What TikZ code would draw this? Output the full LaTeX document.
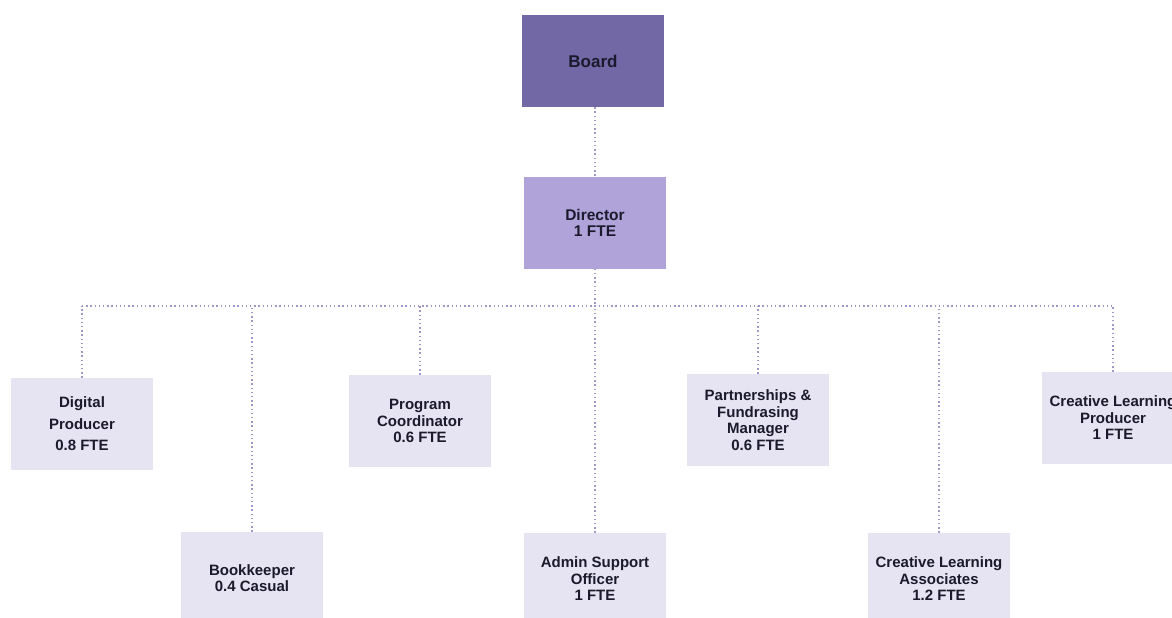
\documentclass[tikz,border=0pt]{standalone}
\usepackage{fontspec}
\setmainfont{Liberation Sans}
\definecolor{boardc}{HTML}{7268A6}
\definecolor{dirc}{HTML}{B0A3D9}
\definecolor{staffc}{HTML}{E6E4F2}
\definecolor{linec}{HTML}{9D98C6}
\definecolor{txtc}{HTML}{1B1A2C}
\tikzset{
  box/.style={minimum width=142pt, minimum height=92pt, inner sep=0pt, align=center,
    text=txtc, font=\bfseries\fontsize{15}{16.5}\selectfont},
  boardbox/.style={box, fill=boardc, font=\bfseries\fontsize{17}{19}\selectfont},
  dirbox/.style={box, fill=dirc, font=\bfseries\fontsize{15.5}{16}\selectfont},
  staffbox/.style={box, fill=staffc},
  link/.style={draw=linec, line width=1.4pt, dash pattern=on 1.4pt off 2.8pt}
}
\begin{document}
\begin{tikzpicture}[x=1pt,y=-1pt]
\useasboundingbox (0,0) rectangle (1172,618);
\clip (0,0) rectangle (1172,618);
\fill[white] (0,0) rectangle (1172,618);
\node[boardbox] (board) at (593,61) {Board};
\node[dirbox] (dir) at (595,222.5) {Director\\1 FTE};
\node[staffbox, font=\bfseries\fontsize{15}{21.5}\selectfont] (dp) at (82,424) {Digital\\Producer\\0.8 FTE};
\node[staffbox] (bk) at (252,578) {Bookkeeper\\0.4 Casual};
\node[staffbox] (pc) at (420,421) {Program\\Coordinator\\0.6 FTE};
\node[staffbox] (as) at (595,579) {Admin Support\\Officer\\1 FTE};
\node[staffbox] (pf) at (758,420) {Partnerships \&\\Fundrasing\\Manager\\0.6 FTE};
\node[staffbox] (cla) at (939,579) {Creative Learning\\Associates\\1.2 FTE};
\node[staffbox] (clp) at (1113,418) {Creative Learning\\Producer\\1 FTE};
\coordinate (bus) at (595,306);
\coordinate (busL) at (82,306);
\coordinate (busR) at (1115,306);
\draw[link] (dir.north |- board.south) -- (dir.north);
\draw[link] (dir.south) -- (bus);
\draw[link] (busL) -- (busR);
\foreach \n in {dp,bk,pc,as,pf,cla,clp}{
  \draw[link] (\n.north) -- (\n.north |- bus);
}
\end{tikzpicture}
\end{document}
